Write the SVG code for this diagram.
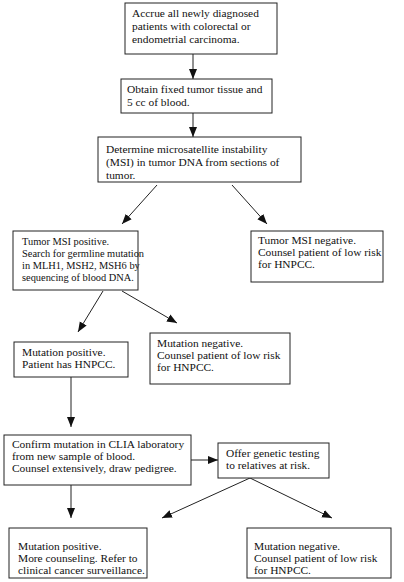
<svg xmlns="http://www.w3.org/2000/svg" width="404" height="582" viewBox="0 0 404 582">
<style>
.box{fill:#fff;stroke:#222;stroke-width:1}
.t{font-family:"Liberation Serif","Times New Roman",serif;font-size:11.4px;fill:#111}
.s{font-size:10.4px}
.c{stroke:#222;stroke-width:1;fill:none;marker-end:url(#ah)}
</style>
<defs>
<marker id="ah" markerUnits="userSpaceOnUse" markerWidth="10" markerHeight="10" viewBox="0 0 10 10" refX="10" refY="5" orient="auto">
<path d="M0,1 L10,5 L0,9 Z" fill="#111"/>
</marker>
</defs>
<rect width="404" height="582" fill="#fff"/>
<g id="connectors">
<line class="c" x1="193" y1="54" x2="193" y2="79"/>
<line class="c" x1="193" y1="113" x2="193" y2="137"/>
<line class="c" x1="157" y1="185" x2="122" y2="224"/>
<line class="c" x1="232" y1="185" x2="267" y2="224"/>
<line class="c" x1="103" y1="291" x2="78" y2="332"/>
<line class="c" x1="122" y1="291" x2="177" y2="323"/>
<line class="c" x1="71" y1="377" x2="71" y2="427"/>
<line class="c" x1="191" y1="460" x2="218" y2="460"/>
<line class="c" x1="71" y1="485" x2="71" y2="518"/>
<line class="c" x1="250" y1="478" x2="162" y2="518"/>
<line class="c" x1="250" y1="478" x2="332" y2="518"/>
</g>
<g id="n1"><rect class="box" x="125" y="3" width="152" height="51"/>
<text class="t" x="132" y="17">Accrue all newly diagnosed</text>
<text class="t" x="132" y="30">patients with colorectal or</text>
<text class="t" x="132" y="43">endometrial carcinoma.</text></g>
<g id="n2"><rect class="box" x="121" y="79" width="151" height="34"/>
<text class="t" x="127" y="93">Obtain fixed tumor tissue and</text>
<text class="t" x="127" y="106">5 cc of blood.</text></g>
<g id="n3"><rect class="box" x="98" y="137" width="203" height="45"/>
<text class="t" x="106" y="153">Determine microsatellite instability</text>
<text class="t" x="106" y="166">(MSI) in tumor DNA from sections of</text>
<text class="t" x="106" y="179">tumor.</text></g>
<g id="n4"><rect class="box" x="13" y="231" width="125" height="59"/>
<text class="t s" x="22" y="245">Tumor MSI positive.</text>
<text class="t s" x="22" y="257">Search for germline mutation</text>
<text class="t s" x="22" y="269">in MLH1, MSH2, MSH6 by</text>
<text class="t s" x="22" y="281">sequencing of blood DNA.</text></g>
<g id="n5"><rect class="box" x="251" y="231" width="132" height="51"/>
<text class="t" x="258" y="244">Tumor MSI negative.</text>
<text class="t" x="258" y="256">Counsel patient of low risk</text>
<text class="t" x="258" y="268">for HNPCC.</text></g>
<g id="n6"><rect class="box" x="14" y="342" width="114" height="35"/>
<text class="t" x="22" y="356">Mutation positive.</text>
<text class="t" x="22" y="368">Patient has HNPCC.</text></g>
<g id="n7"><rect class="box" x="150" y="333" width="140" height="51"/>
<text class="t" x="157" y="347">Mutation negative.</text>
<text class="t" x="157" y="359">Counsel patient of low risk</text>
<text class="t" x="157" y="371">for HNPCC.</text></g>
<g id="n8"><rect class="box" x="4" y="435" width="187" height="50"/>
<text class="t" x="12" y="448">Confirm mutation in CLIA laboratory</text>
<text class="t" x="12" y="460">from new sample of blood.</text>
<text class="t" x="12" y="472">Counsel extensively, draw pedigree.</text></g>
<g id="n9"><rect class="box" x="218" y="443" width="111" height="35"/>
<text class="t" x="226" y="457">Offer genetic testing</text>
<text class="t" x="226" y="469">to relatives at risk.</text></g>
<g id="n10"><rect class="box" x="9" y="528" width="138" height="50"/>
<text class="t" x="18" y="550">Mutation positive.</text>
<text class="t" x="18" y="562">More counseling. Refer to</text>
<text class="t" x="18" y="574">clinical cancer surveillance.</text></g>
<g id="n11"><rect class="box" x="247" y="528" width="144" height="50"/>
<text class="t" x="254" y="550">Mutation negative.</text>
<text class="t" x="254" y="562">Counsel patient of low risk</text>
<text class="t" x="254" y="574">for HNPCC.</text></g>
</svg>
